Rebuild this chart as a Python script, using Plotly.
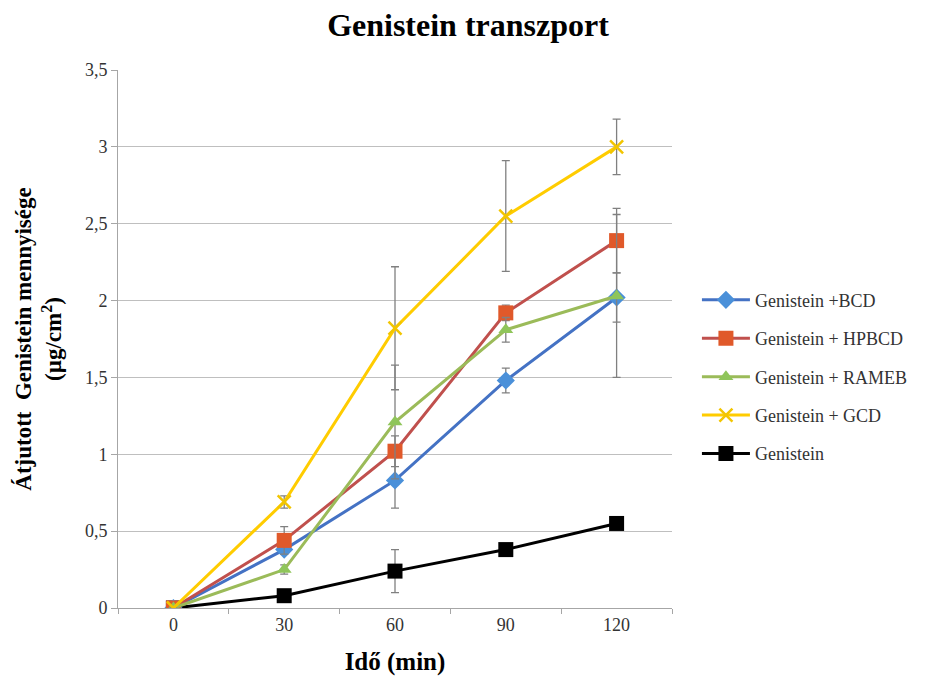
import plotly.graph_objects as go

# Sampling times (min)
time_min = [0, 30, 60, 90, 120]

# Transported genistein amount (ug/cm2) and standard deviations
bcd = [0.0, 0.38, 0.83, 1.48, 2.02]
bcd_sd = [0.0, 0.03, 0.18, 0.08, 0.16]

hpbcd = [0.0, 0.44, 1.02, 1.92, 2.39]
hpbcd_sd = [0.0, 0.09, 0.10, 0.05, 0.21]

rameb = [0.0, 0.25, 1.21, 1.81, 2.03]
rameb_sd = [0.0, 0.03, 0.37, 0.08, 0.53]

gcd = [0.0, 0.69, 1.82, 2.55, 3.0]
gcd_sd = [0.0, 0.04, 0.40, 0.36, 0.18]

gen = [0.0, 0.08, 0.24, 0.38, 0.55]
gen_sd = [0.0, 0.0, 0.14, 0.02, 0.02]

y_tickvals = [0, 0.5, 1, 1.5, 2, 2.5, 3, 3.5]
y_ticktext = ["0", "0,5", "1", "1,5", "2", "2,5", "3", "3,5"]

FONT = "Liberation Serif"
ERR_COLOR = "#808080"

series = [
    # name, values, sd, line colour, marker colour, symbol, size, legend rank
    ("Genistein", gen, gen_sd, "#000000", "#000000", "square", 15, 5),
    ("Genistein +BCD", bcd, bcd_sd, "#4472C4", "#4A90D9", "diamond", 14, 1),
    ("Genistein + HPBCD", hpbcd, hpbcd_sd, "#C0504D", "#E0592A", "square", 15, 2),
    ("Genistein + RAMEB", rameb, rameb_sd, "#9BBB59", "#8FC55A", "triangle-up", 13, 3),
    ("Genistein + GCD", gcd, gcd_sd, "#FFCC00", "#F2C500", "x-thin-open", 13, 4),
]

fig = go.Figure()
for name, vals, sd, lc, mc, sym, size, rank in series:
    marker = dict(symbol=sym, size=size, color=mc)
    if sym == "x-thin-open":
        marker["line"] = dict(color=mc, width=2.5)
    fig.add_trace(go.Scatter(
        x=time_min, y=vals, name=name, mode="lines+markers",
        line=dict(color=lc, width=3),
        marker=marker,
        error_y=dict(type="data", array=sd, visible=True,
                     color=ERR_COLOR, thickness=1.3, width=4),
        legendrank=rank, legendgroup=name,
    ))

fig.update_layout(
    width=936, height=682,
    margin=dict(l=118, r=264, t=70, b=74),
    paper_bgcolor="white", plot_bgcolor="white",
    font=dict(family=FONT, size=18, color="#000000"),
    title=dict(text="<b>Genistein transzport</b>", x=0.5, xanchor="center",
               xref="container", y=0.963, yanchor="middle",
               font=dict(family=FONT, size=32, color="#000000")),
    showlegend=True,
    legend=dict(x=1.045, xanchor="left", y=0.43, yanchor="middle",
                font=dict(family=FONT, size=18, color="#333333"),
                traceorder="grouped", tracegroupgap=12, itemwidth=48,
                bgcolor="rgba(0,0,0,0)"),
)

fig.update_xaxes(
    range=[-15, 135], tickvals=time_min, ticktext=[str(t) for t in time_min],
    ticks="", showgrid=False, zeroline=False,
    showline=True, linecolor="#A6A6A6", linewidth=1,
    tickfont=dict(family=FONT, size=18, color="#333333"),
    minor=dict(tickvals=[-15, 15, 45, 75, 105, 135], ticks="outside",
               ticklen=5, tickcolor="#A6A6A6", showgrid=False),
    title=dict(text="<b>Idő (min)</b>", standoff=18,
               font=dict(family=FONT, size=25, color="#000000")),
)

fig.update_yaxes(
    range=[0, 3.5], tickvals=y_tickvals, ticktext=y_ticktext,
    showgrid=True, gridcolor="#BFBFBF", gridwidth=1, zeroline=False,
    showline=True, linecolor="#A6A6A6", linewidth=1,
    ticks="outside", ticklen=6, tickcolor="#A6A6A6",
    tickfont=dict(family=FONT, size=18, color="#333333"),
    title=dict(text="<b>Átjutott  Genistein mennyisége<br>(µg/cm<sup>2</sup>)</b>",
               standoff=16,
               font=dict(family=FONT, size=23, color="#000000")),
)

fig.write_html("out.html")
